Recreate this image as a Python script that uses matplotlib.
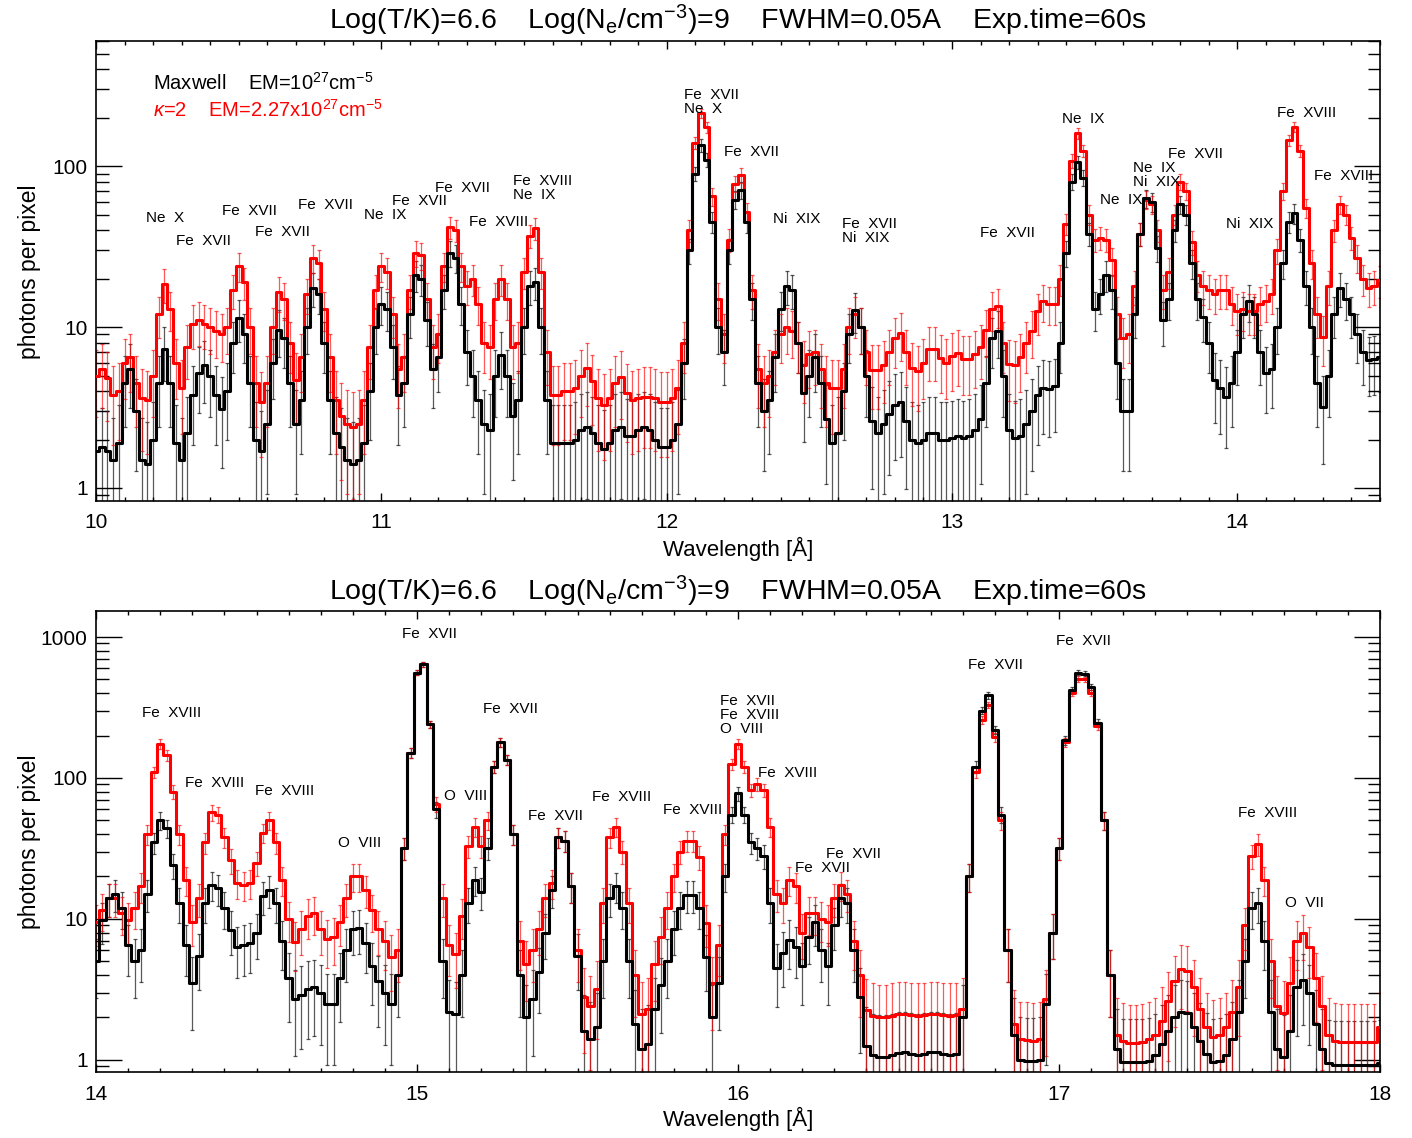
import matplotlib
matplotlib.use("Agg")
import matplotlib.pyplot as plt
import numpy as np
from matplotlib.ticker import LogLocator, NullFormatter, MultipleLocator

plt.rcParams['font.family'] = ['Liberation Sans', 'DejaVu Sans']
plt.rcParams['mathtext.fontset'] = 'custom'
plt.rcParams['mathtext.rm'] = 'Liberation Sans'
plt.rcParams['mathtext.it'] = 'Liberation Sans:italic'
plt.rcParams['mathtext.default'] = 'regular'

# Data: photons per pixel, bins of 0.02 A
wl_top = np.round(np.arange(10.0, 14.5001, 0.02), 2)
maxwell_top = [
    1.7, 1.8, 1.7, 1.5, 1.9, 4.5, 5.5, 3.0, 1.5, 1.4,
    2.0, 4.5, 7.3, 4.5, 1.9, 1.5, 2.2, 3.8, 5.2, 5.8,
    5.0, 3.8, 3.1, 4.0, 8.0, 11.4, 9.0, 4.5, 2.0, 1.7,
    2.5, 6.0, 9.6, 8.5, 4.5, 2.5, 3.5, 10, 17.5, 16,
    8.0, 3.5, 2.2, 1.8, 1.5, 1.4, 1.5, 1.9, 4.0, 10,
    14, 13, 7.5, 3.8, 4.5, 12, 21, 20, 11, 5.5,
    6.5, 17, 29, 27, 14, 7, 5, 3.5, 2.5, 2.3,
    5, 6.7, 5, 2.8, 3.5, 10, 18, 19, 10, 3.5,
    1.9, 1.9, 1.9, 1.9, 2.0, 2.3, 2.4, 2.2, 1.9, 1.75,
    1.9, 2.3, 2.4, 2.1, 2.1, 2.3, 2.4, 2.3, 2.0, 1.8,
    1.8, 2.0, 2.5, 6, 30, 90, 135, 110, 45, 10,
    7, 30, 62, 71, 45, 15, 4.5, 3.0, 3.5, 6.5,
    13, 18, 17, 8, 3.9, 5.0, 6.5, 4.5, 2.7, 1.9,
    2.2, 4.0, 9, 12.8, 10, 5, 2.6, 2.2, 2.5, 2.9,
    3.3, 3.4, 2.6, 2.0, 1.9, 2.0, 2.2, 2.2, 2.0, 2.0,
    2.05, 2.1, 2.05, 2.1, 2.3, 2.7, 4.5, 8.5, 9.5, 5,
    2.3, 2.05, 2.1, 2.5, 3.0, 3.8, 4.2, 4.1, 4.3, 8,
    29, 80, 106, 85, 38, 13, 16, 21, 17, 6,
    3.0, 3.0, 12, 38, 63, 60, 31, 11, 15, 40,
    58, 50, 25, 15, 11.5, 8, 4.7, 4.2, 3.7, 4.5,
    7, 12, 14.5, 12, 7, 5.2, 5.5, 10, 25, 45,
    51, 35, 18, 10, 4.5, 3.2, 5.0, 12, 17.5, 15,
    12, 9, 7, 6.2, 6.3, 6.5,
]
kappa_top = [
    5.0, 5.5, 4.8, 3.8, 4.0, 6.0, 6.5, 4.5, 3.6, 3.5,
    5.0, 12, 18.5, 13, 6, 4.2, 7.5, 10.5, 11, 10.5,
    10, 9.5, 9.1, 10, 17, 24, 19, 10, 4.5, 3.4,
    4.5, 10, 16.5, 15, 8, 4.7, 6.5, 16, 27, 25,
    13, 6.5, 3.5, 2.8, 2.5, 2.4, 2.5, 3.5, 7.5, 17,
    24, 22, 12, 5.5, 6.5, 17, 29, 28, 15, 7.5,
    9, 24, 42, 40, 24, 18, 20, 14, 8, 7.5,
    15, 20, 15, 7.5, 8, 22, 37, 41, 22, 7,
    3.8, 3.8, 4.0, 4.0, 4.2, 5.0, 5.6, 4.6, 3.6, 3.3,
    3.6, 4.5, 4.9, 3.9, 3.5, 3.6, 3.7, 3.7, 3.6, 3.4,
    3.4, 3.6, 4.2, 8, 40, 140, 213, 175, 65, 15,
    9, 35, 78, 88, 52, 17, 5.5, 4.5, 5.0, 7,
    9, 10, 9.5, 8, 5.8, 6.8, 7.0, 5.5, 4.5, 4.2,
    4.2, 5.5, 10, 12, 10, 7, 5.4, 5.4, 5.8, 7.0,
    8.5, 9.2, 7.0, 5.6, 5.3, 6.0, 7.3, 7.3, 6.4, 6.0,
    6.6, 6.9, 6.3, 6.3, 6.8, 7.5, 9.6, 13, 13.5, 8,
    5.9, 5.8, 6.5, 8.0, 9.5, 12.5, 14.5, 14, 14, 20,
    44, 108, 160, 125, 50, 35, 36, 35, 26, 12,
    8.5, 9, 18, 38, 62, 58, 40, 17, 22, 50,
    80, 70, 34, 21, 18, 17, 16, 17, 17, 14,
    12.5, 13, 12.5, 12.5, 14, 14.5, 16, 30, 70, 145,
    176, 125, 55, 25, 12, 8.7, 18, 40, 58, 50,
    36, 27, 20, 17.5, 18, 19.5,
]

wl_bot = np.round(np.arange(14.0, 18.0001, 0.02), 2)
maxwell_bot = [
    5.0, 9.8, 14, 15, 12, 6.5, 5.0, 6.0, 15, 35,
    50, 44, 24, 13, 6.5, 3.5, 5.5, 13, 17.5, 16.5,
    12, 8.4, 6.3, 6.5, 6.7, 8, 14.5, 16, 13, 7,
    3.8, 2.7, 2.9, 3.2, 3.3, 3.0, 2.5, 2.5, 3.8, 6,
    8.5, 8.6, 6.7, 4.6, 3.6, 3.0, 2.5, 4, 32, 150,
    560, 640, 240, 60, 5, 2.2, 2.1, 4, 13, 19,
    15.5, 32, 120, 180, 135, 40, 4, 2.0, 2.7, 4.2,
    8, 16, 38, 36, 17, 5.5, 1.6, 1.4, 1.7, 5,
    14, 17, 12, 5, 1.8, 1.2, 1.3, 2.3, 3.4, 5,
    8.5, 12, 14.8, 14.8, 12, 5.4, 2.0, 3.5, 20, 55,
    78, 55, 35, 32, 28, 13, 4.5, 5.7, 7.1, 6.3,
    4.6, 7.5, 9.5, 6, 4.6, 9, 14, 13, 6, 2.8,
    1.25, 1.08, 1.05, 1.05, 1.08, 1.12, 1.13, 1.1, 1.08, 1.1,
    1.13, 1.13, 1.1, 1.08, 1.1, 2.0, 20, 120, 300, 385,
    220, 55, 6, 1.5, 1.0, 0.98, 0.98, 1.0, 2.5, 8,
    32, 185, 420, 560, 550, 440, 245, 50, 4, 1.2,
    0.97, 0.96, 0.96, 0.97, 0.98, 1.08, 1.3, 1.6, 2.0, 2.2,
    2.15, 1.7, 1.35, 1.1, 0.96, 0.98, 1.08, 1.4, 2.2, 5,
    12, 13, 7, 2.2, 1.2, 1.05, 1.6, 3.3, 3.7, 3.0,
    1.8, 1.2, 0.95, 0.92, 0.92, 0.92, 0.92, 0.92, 0.92, 0.92,
    0.95,
]
kappa_bot = [
    9.5, 11.6, 14, 14, 11, 9.8, 12, 17, 40, 110,
    175, 145, 80, 40, 19, 9.5, 14, 35, 57, 55,
    38, 26, 18, 17.5, 18, 25, 41, 50, 35, 19,
    10, 6.9, 8.5, 10.5, 11, 8.5, 7.2, 7.4, 9.5, 14,
    20, 20, 16, 11.5, 8.5, 7, 5.4, 6, 32, 150,
    560, 640, 240, 65, 14, 6.5, 5.6, 10.5, 33, 45,
    33, 50, 120, 180, 135, 40, 7, 4.8, 6.0, 8.5,
    14, 18, 38, 36, 17, 6, 2.8, 2.4, 3.2, 13,
    38, 45, 30, 13, 4, 2.1, 2.3, 4.8, 7.5, 12,
    20, 30, 36, 36, 27.5, 9.4, 3.5, 6.5, 40, 125,
    175, 120, 82, 90, 82, 45, 15, 13, 19, 17,
    8, 11, 11, 10, 9.5, 14, 17.5, 15, 7, 4,
    2.25, 2.05, 2.0, 2.0, 2.05, 2.1, 2.1, 2.08, 2.05, 2.07,
    2.1, 2.1, 2.07, 2.05, 2.07, 2.3, 20, 110, 258, 330,
    195, 50, 6, 1.8, 1.4, 1.38, 1.37, 1.4, 2.7, 8,
    32, 180, 400, 505, 500, 400, 235, 50, 4, 1.5,
    1.35, 1.32, 1.32, 1.33, 1.4, 1.5, 1.9, 2.6, 3.6, 4.4,
    4.3, 3.3, 2.3, 1.7, 1.45, 1.5, 1.7, 2.2, 3.3, 9,
    28, 34, 19, 5, 2.4, 2.15, 3.5, 7, 7.9, 6.3,
    3.8, 2.4, 1.5, 1.35, 1.34, 1.34, 1.34, 1.34, 1.34, 1.34,
    1.7,
]

# Line identifications: text, wavelength, height, alignment
top_labels = ['Ne  X', 'Fe  XVII', 'Fe  XVII', 'Fe  XVII', 'Fe  XVII', 'Ne  IX',
              'Fe  XVII', 'Fe  XVII', 'Fe  XVIII', 'Fe  XVIII\nNe  IX',
              'Fe  XVII\nNe  X', 'Fe  XVII', 'Ni  XIX', 'Fe  XVII\nNi  XIX',
              'Fe  XVII', 'Ne  IX', 'Ne  IX', 'Ne  IX\nNi  XIX', 'Fe  XVII',
              'Ni  XIX', 'Fe  XVIII', 'Fe  XVIII']
top_lab_x = [10.243, 10.377, 10.538, 10.653, 10.804, 11.014, 11.133, 11.284,
             11.410, 11.462, 12.061, 12.296, 12.457, 12.615, 13.193, 13.459,
             13.592, 13.634, 13.855, 14.044, 14.243, 14.268]
top_lab_y = [47.5, 34.2, 52.5, 38.9, 57.3, 49.6, 60.6, 73.0, 44.9, 73, 250,
             122, 46.9, 39.5, 38.4, 196, 61.5, 87.9, 119, 43.6, 213, 86.7]
top_lab_ha = ['center'] * 9 + ['left', 'left', 'center', 'center', 'left',
                               'center', 'center', 'center', 'left', 'center',
                               'center', 'center', 'left']

bot_labels = ['Fe  XVIII', 'Fe  XVIII', 'Fe  XVIII', 'O  VIII', 'Fe  XVII',
              'O  VIII', 'Fe  XVII', 'Fe  XVII', 'Fe  XVIII', 'Fe  XVIII',
              'Fe  XVII\nFe  XVIII\nO  VIII', 'Fe  XVIII', 'Fe  XVII',
              'Fe  XVII', 'Fe  XVII', 'Fe  XVII', 'Fe  XVIII', 'O  VII']
bot_lab_x = [14.237, 14.368, 14.589, 14.822, 15.040, 15.150, 15.290, 15.430,
             15.636, 15.860, 15.944, 16.156, 16.262, 16.361, 16.801, 17.075,
             17.651, 17.766]
bot_lab_y = [289, 92.2, 80.9, 34.6, 1050, 74.5, 309, 53.8, 73.3, 59.3, 280,
             108, 23, 28.9, 633, 937, 56.5, 13.0]
bot_lab_ha = ['center'] * 10 + ['left'] + ['center'] * 7

title = r'Log(T/K)=6.6    Log(N$_{e}$/cm$^{-3}$)=9    FWHM=0.05A    Exp.time=60s'

W, H = 1412, 1138
fig = plt.figure(figsize=(W / 100, H / 100), dpi=100)
ax1 = fig.add_axes([96 / W, 1 - 501 / H, 1284 / W, 460 / H])
ax2 = fig.add_axes([96 / W, 1 - 1072 / H, 1284 / W, 461 / H])


def draw(ax, wl, ym, yk):
    for y, col, z in [(np.array(ym), 'black', 1), (np.array(yk), 'red', 2)]:
        err = np.sqrt(y)
        lo = np.minimum(err, y - 1e-3)
        ax.errorbar(wl, y, yerr=[lo, err], fmt='none', ecolor=col, alpha=0.65,
                    elinewidth=0.9, capsize=1.5, capthick=0.9, zorder=z)
    ax.step(wl, yk, where='mid', color='red', lw=2.2, zorder=3)
    ax.step(wl, ym, where='mid', color='black', lw=2.2, zorder=4)
    ax.set_yscale('log')
    ax.yaxis.set_minor_locator(LogLocator(base=10, subs=np.arange(2, 10)))
    ax.yaxis.set_minor_formatter(NullFormatter())
    ax.xaxis.set_minor_locator(MultipleLocator(0.1))
    ax.tick_params(which='both', direction='in', top=True, right=True,
                   labelsize=15, width=1.0)
    ax.tick_params(axis='y', which='major', length=19, pad=6)
    ax.tick_params(axis='y', which='minor', length=9)
    ax.tick_params(axis='x', which='major', length=6, pad=9)
    ax.tick_params(axis='x', which='minor', length=3)
    for s in ax.spines.values():
        s.set_linewidth(1.2)


draw(ax1, wl_top, maxwell_top, kappa_top)
ax1.set_xlim(10, 14.5)
ax1.set_ylim(0.83, 600)
ax1.set_xticks([10, 11, 12, 13, 14])
ax1.set_xticklabels(['10', '11', '12', '13', '14'])
ax1.set_yticks([1, 10, 100])
ax1.set_yticklabels(['1', '10', '100'])
for t, x, y, ha in zip(top_labels, top_lab_x, top_lab_y, top_lab_ha):
    ax1.text(x, y, t, ha=ha, va='center', fontsize=11, linespacing=1.0,
             zorder=5, clip_on=False)
ax1.text(0.0444, 0.909, r'Maxwell    EM=10$^{27}$cm$^{-5}$', transform=ax1.transAxes,
         fontsize=14.5, va='center', ha='left', color='black')
ax1.text(0.0444, 0.850, r'$\mathit{\kappa}$=2    EM=2.27x10$^{27}$cm$^{-5}$',
         transform=ax1.transAxes, fontsize=14.5, va='center', ha='left', color='red')

draw(ax2, wl_bot, maxwell_bot, kappa_bot)
ax2.set_xlim(14, 18)
ax2.set_ylim(0.82, 1530)
ax2.set_xticks([14, 15, 16, 17, 18])
ax2.set_xticklabels(['14', '15', '16', '17', '18'])
ax2.set_yticks([1, 10, 100, 1000])
ax2.set_yticklabels(['1', '10', '100', '1000'])
for t, x, y, ha in zip(bot_labels, bot_lab_x, bot_lab_y, bot_lab_ha):
    ax2.text(x, y, t, ha=ha, va='center', fontsize=11, linespacing=1.0,
             zorder=5, clip_on=False)

# Titles and axis labels
fig.text(738 / W, 1 - 20 / H, title, ha='center', va='center', fontsize=20.5)
fig.text(738 / W, 1 - 591 / H, title, ha='center', va='center', fontsize=20.5)
fig.text(738 / W, 1 - 549 / H, 'Wavelength [Å]', ha='center', va='center', fontsize=16)
fig.text(738 / W, 1 - 1119 / H, 'Wavelength [Å]', ha='center', va='center', fontsize=16)
fig.text(30 / W, 1 - 272 / H, 'photons per pixel', rotation=90, ha='center',
         va='center', fontsize=16.5)
fig.text(30 / W, 1 - 842 / H, 'photons per pixel', rotation=90, ha='center',
         va='center', fontsize=16.5)

fig.savefig('out.png', dpi=100)
